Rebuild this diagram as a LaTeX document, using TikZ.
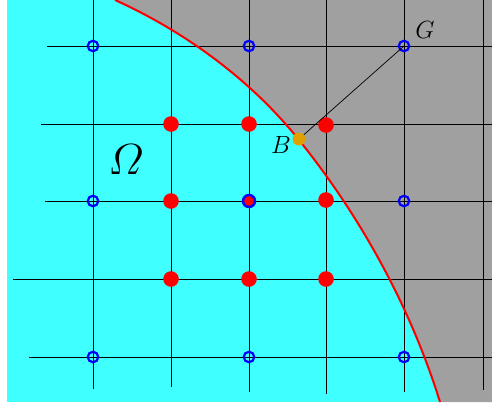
\documentclass[tikz,border=0pt]{standalone}
\usepackage{amsmath}
\usepackage{graphicx}
\definecolor{omegacyan}{RGB}{64,255,255}
\definecolor{outgray}{RGB}{160,160,160}
\definecolor{borange}{RGB}{224,160,0}
\begin{document}
\begin{tikzpicture}[x=1pt,y=-1pt,
  gridline/.style={black,line width=0.9pt},
  ghost/.style={circle,draw=blue,line width=2.2pt,inner sep=0pt,minimum size=10.5pt},
  inner/.style={circle,fill=red,inner sep=0pt,minimum size=15.6pt},
  both/.style={circle,fill=red,draw=blue,line width=2.4pt,inner sep=0pt,minimum size=12pt},
  bpoint/.style={circle,fill=borange,inner sep=0pt,minimum size=12.6pt},
  lbl/.style={inner sep=0pt,font=\fontsize{24}{24}\selectfont}]
\def\bdry{(115,0) .. controls (185,31.6) and (251,80) .. (299,140) .. controls (361,217) and (410.6,307.5) .. (440,402)}
\useasboundingbox (0,0) rectangle (492,402);
\fill[white] (0,0) rectangle (492,402);
\fill[omegacyan] (7,0) rectangle (492,402);
\fill[outgray] \bdry -- (492,402) -- (492,0) -- cycle;
% grid
\draw[gridline] (93,0) -- (93,389);
\draw[gridline] (171,0) -- (171,387);
\draw[gridline] (249,0) -- (249,392);
\draw[gridline] (326,0) -- (326,394);
\draw[gridline] (404,0) -- (404,392);
\draw[gridline] (483,0) -- (483,390);
\draw[gridline] (47,46) -- (492,46);
\draw[gridline] (41,124) -- (492,124);
\draw[gridline] (45,201) -- (492,201);
\draw[gridline] (13,279) -- (492,279);
\draw[gridline] (29,357) -- (492,357);
% boundary
\draw[red,line width=2pt] \bdry;
% points
\node[ghost] (g1) at (93,46) {};
\node[ghost] (g2) at (249,46) {};
\node[ghost] (G) at (404,46) {};
\node[ghost] (g4) at (93,201) {};
\node[ghost] (g5) at (404,201) {};
\node[ghost] (g6) at (93,357) {};
\node[ghost] (g7) at (249,357) {};
\node[ghost] (g8) at (404,357) {};
\node[inner] (p1) at (171,124) {};
\node[inner] (p2) at (249,124) {};
\node[inner] (p3) at (326,125) {};
\node[inner] (p4) at (171,201) {};
\node[both] (p5) at (249,201) {};
\node[inner] (p6) at (326,200) {};
\node[inner] (p7) at (171,279) {};
\node[inner] (p8) at (249,279) {};
\node[inner] (p9) at (326,279) {};
\node[bpoint] (B) at (299,139) {};
\draw[black,line width=0.7pt] (B.center) -- (G.center);
\node[bpoint] at (299,139) {};
% labels
\node[lbl] (Glbl) at (425,30) {$G$};
\node[lbl] (Blbl) at (281,145) {$B$};
\node[inner sep=0pt] (Om) at (126,160) {\scalebox{1.75}{\fontsize{24}{24}\selectfont$\varOmega$}};
\end{tikzpicture}
\end{document}
